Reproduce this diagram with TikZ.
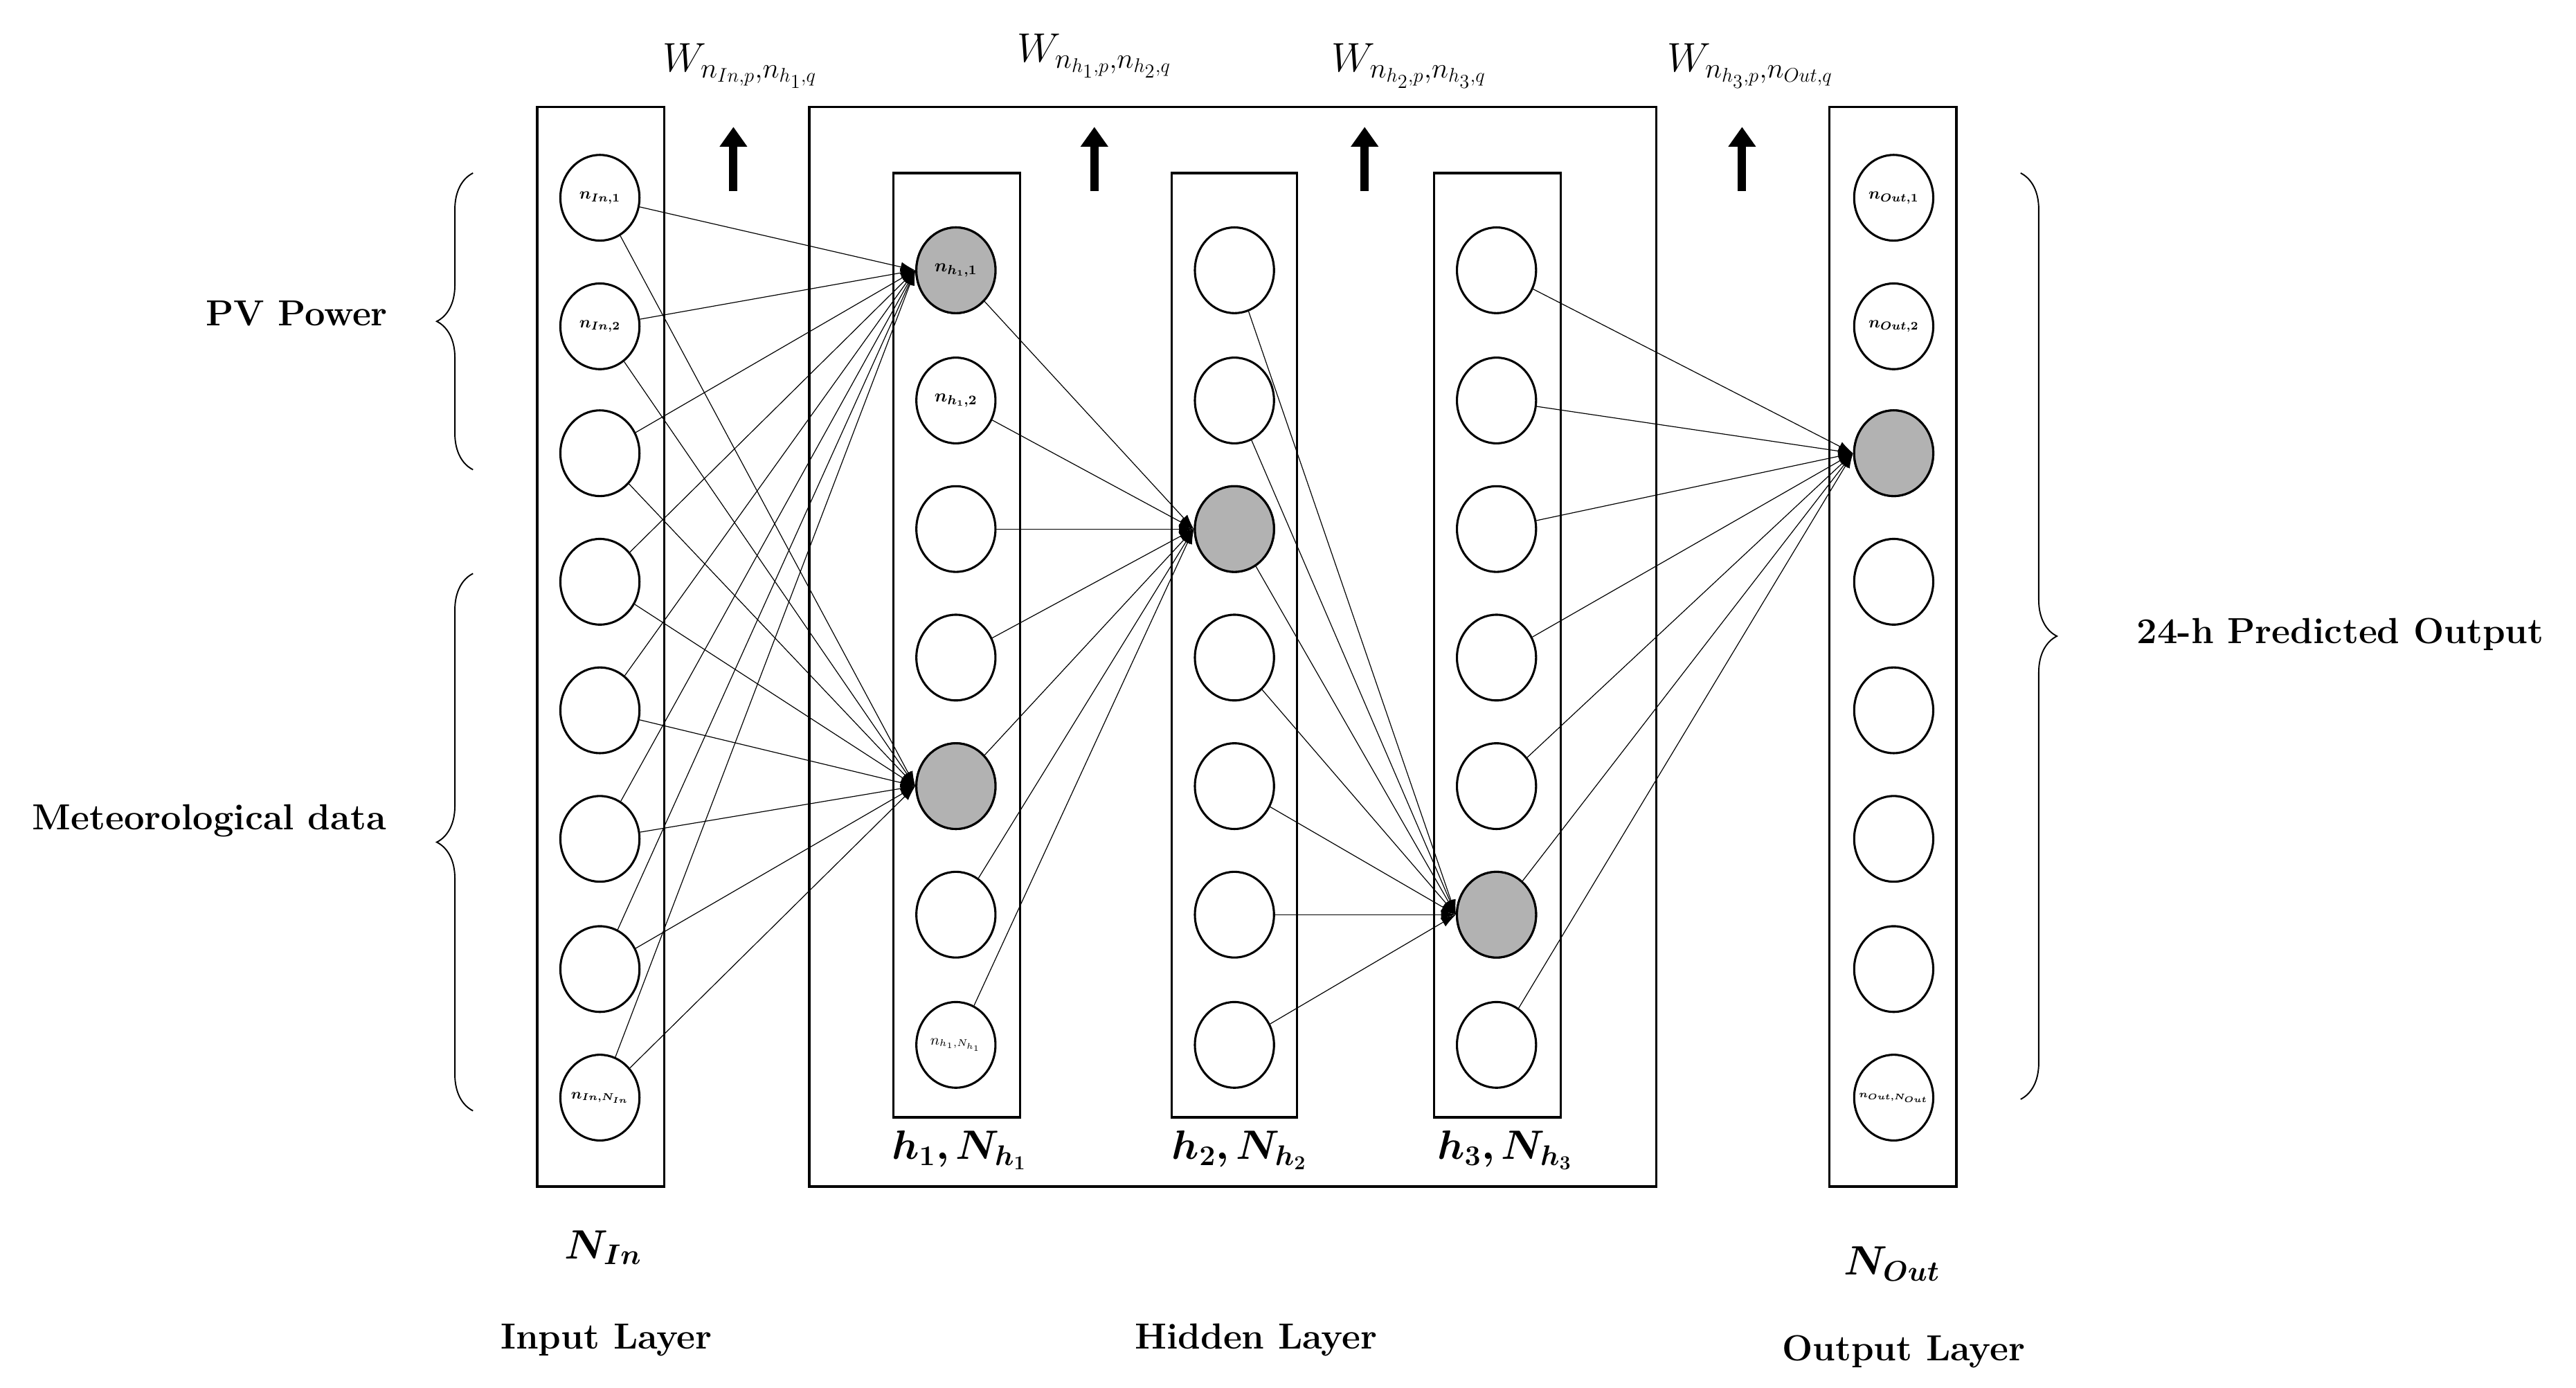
\documentclass[tikz,border=0pt]{standalone}
\usepackage{amsmath,amssymb,bm}
\usetikzlibrary{shapes.geometric,decorations.pathreplacing,arrows.meta}
\begin{document}
\begin{tikzpicture}[x=1pt,y=-1pt,
  neu/.style={ellipse,draw,line width=1.3pt,minimum width=48pt,minimum height=52pt,inner sep=0pt,fill=white,font=\fontsize{11}{12}\selectfont},
  gry/.style={neu,fill=gray!60},
  lay/.style={draw,line width=1.4pt},
  con/.style={line width=0.5pt,-{Latex[length=9pt,width=6pt]}},
  up/.style={line width=5pt,-{Triangle[length=12pt,width=16pt]}},
  lbl/.style={font=\fontsize{22}{26}\selectfont\bfseries},
  wl/.style={font=\fontsize{24}{28}\selectfont}]
\useasboundingbox (0,0) rectangle (1563,842);
% boxes
\draw[lay] (326,65) rectangle (403,720);
\draw[lay] (491,65) rectangle (1005,720);
\draw[lay] (542,105) rectangle (619,678);
\draw[lay] (711,105) rectangle (787,678);
\draw[lay] (870,105) rectangle (947,678);
\draw[lay] (1110,65) rectangle (1187,720);
% input nodes
\foreach \i/\y in {1/120,2/198,3/275,4/353,5/431,6/509,7/588,8/666}{
  \node[neu] (in\i) at (364,\y) {};
  \node[neu] (out\i) at (1149,\y) {};}
\node at (in1) {$\bm{n_{In,1}}$};
\node at (in2) {$\bm{n_{In,2}}$};
\node[font=\fontsize{9}{10}\selectfont] at (in8) {$\bm{n_{In,N_{In}}}$};
\node at (out1) {$\bm{n_{Out,1}}$};
\node at (out2) {$\bm{n_{Out,2}}$};
\node[font=\fontsize{6}{7}\selectfont] at (out8) {$\bm{n_{Out,N_{Out}}}$};
\node[gry] at (out3) {};
% hidden nodes
\foreach \i/\y in {1/164,2/243,3/321,4/399,5/477,6/555,7/634}{
  \node[neu] (a\i) at (580,\y) {};
  \node[neu] (b\i) at (749,\y) {};
  \node[neu] (c\i) at (908,\y) {};}
\node[gry] (a1) at (580,164) {$\bm{n_{h_1,1}}$};
\node[gry] (a5) at (580,477) {};
\node[font=\fontsize{11}{12}\selectfont] at (a2) {$\bm{n_{h_1,2}}$};
\node[font=\fontsize{9}{10}\selectfont] at (a7) {$n_{h_1,N_{h_1}}$};
\node[gry] (b3) at (749,321) {};
\node[gry] (c6) at (908,555) {};
% connections
\foreach \i in {1,...,8}{
  \draw[con] (in\i) -- (a1.west);
  \draw[con] (in\i) -- (a5.west);}
\foreach \i in {1,...,7}{
  \draw[con] (a\i) -- (b3.west);
  \draw[con] (b\i) -- (c6.west);
  \draw[con] (c\i) -- (out3.west);}
% up arrows
\foreach \n/\x in {u1/445,u2/664,u3/828,u4/1057}{
  \coordinate (\n s) at (\x,116); \coordinate (\n e) at (\x,77);
  \draw[up] (\n s) -- (\n e);}
% weight labels
\node[wl] (w1) at (449,40) {$W_{n_{In,p},n_{h_1,q}}$};
\node[wl] (w2) at (664,34) {$W_{n_{h_1,p},n_{h_2,q}}$};
\node[wl] (w3) at (855,40) {$W_{n_{h_2,p},n_{h_3,q}}$};
\node[wl] (w4) at (1062,40) {$W_{n_{h_3,p},n_{Out,q}}$};
% layer labels
\node[wl] (l1) at (582,698) {$\bm{h_1,N_{h_1}}$};
\node[wl] (l2) at (752,698) {$\bm{h_2,N_{h_2}}$};
\node[wl] (l3) at (913,698) {$\bm{h_3,N_{h_3}}$};
\node[font=\fontsize{26}{30}\selectfont] (nin) at (366,757) {$\bm{N_{In}}$};
\node[font=\fontsize{26}{30}\selectfont] (nout) at (1148,767) {$\bm{N_{Out}}$};
\node[lbl] (t1) at (368,813) {Input Layer};
\node[lbl] (t2) at (762,813) {Hidden Layer};
\node[lbl] (t3) at (1155,820) {Output Layer};
% braces
\coordinate (b1s) at (287,285); \coordinate (b1e) at (287,105);
\draw[line width=0.8pt,decorate,decoration={brace,amplitude=22pt}] (b1s) -- (b1e);
\coordinate (b2s) at (287,674); \coordinate (b2e) at (287,348);
\draw[line width=0.8pt,decorate,decoration={brace,amplitude=22pt}] (b2s) -- (b2e);
\coordinate (b3s) at (1226,105); \coordinate (b3e) at (1226,667);
\draw[line width=0.8pt,decorate,decoration={brace,amplitude=22pt}] (b3s) -- (b3e);
\node[lbl] (pv) at (180,190) {PV Power};
\node[lbl] (met) at (127,498) {Meteorological data};
\node[lbl] (pred) at (1420,385) {24-h Predicted Output};
\end{tikzpicture}
\end{document}
